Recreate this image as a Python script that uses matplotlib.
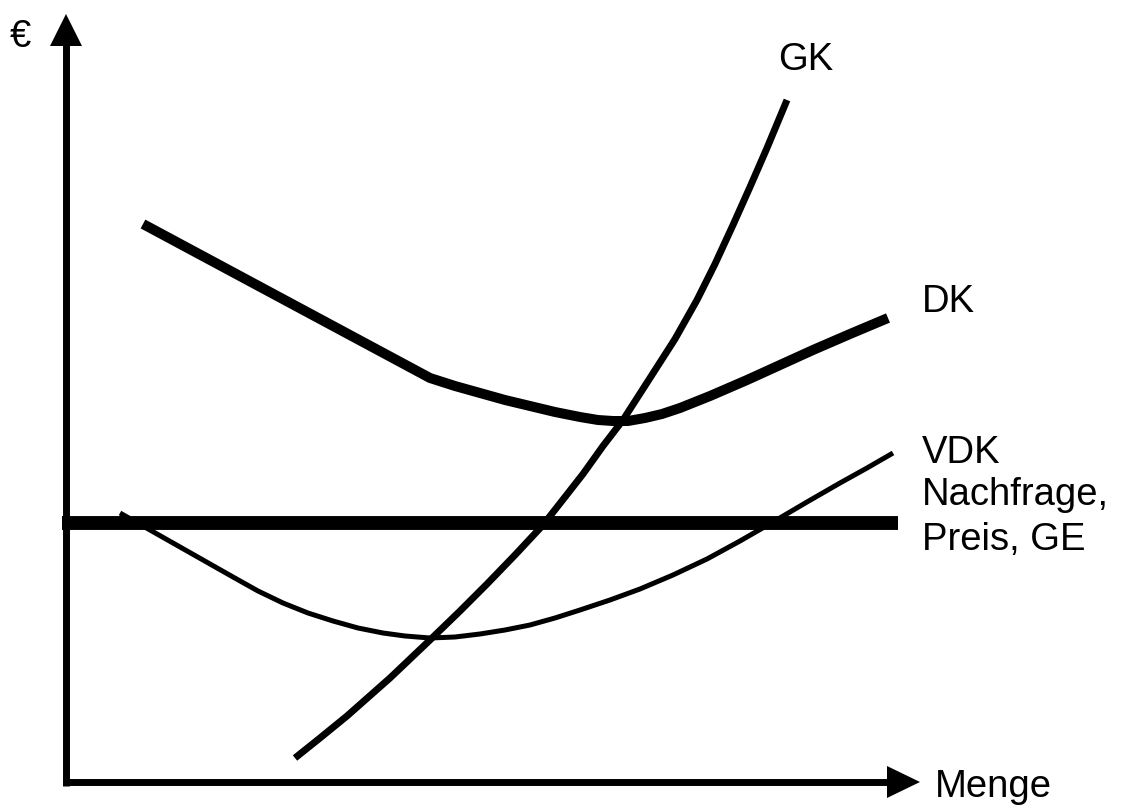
import matplotlib.pyplot as plt

# curve points (pixel space, y grows downwards)
dk_x = [143, 430, 455, 480, 505, 530, 555, 580, 598, 613, 628, 645, 662, 680, 710, 747, 780, 813, 850, 888]
dk_y = [224, 378, 386, 393, 400, 406, 412, 417, 420, 421, 421, 418, 414, 408, 396, 380, 365, 350, 334, 318]

gk_x = [295, 320, 347, 390, 430, 460, 487, 515, 543, 565, 583, 603, 623, 650, 675, 697, 715, 733, 750, 767, 787]
gk_y = [758, 738, 716, 678, 640, 611, 584, 555, 525, 497, 474, 446, 420, 378, 339, 300, 264, 225, 187, 148, 100]

vdk_x = [120, 233, 258, 283, 308, 333, 358, 383, 405, 430, 455, 480, 505, 530, 555, 580, 610, 640, 673, 707, 740, 773, 807, 840, 867, 893]
vdk_y = [513, 577, 591, 603, 613, 621, 628, 633, 636, 638, 637, 634, 630, 625, 618, 610, 600, 589, 575, 559, 541, 522, 502, 483, 468, 453]

price_y = 523
price_x = [62, 898]

labels = ["GK", "DK", "VDK", "Nachfrage,", "Preis, GE"]
label_x = [778, 922, 922, 922, 922]
label_y = [70, 312, 463, 505, 550]

# axis geometry
x0, y0 = 66, 782
y_top = 14
x_right = 920

fig = plt.figure(figsize=(11.36, 8.06), dpi=100)
ax = fig.add_axes([0, 0, 1, 1])
ax.set_xlim(0, 1136)
ax.set_ylim(806, 0)
ax.axis("off")

# axes with arrow heads
ax.plot([x0, x0], [y0 + 4, y_top + 30], color="black", lw=5, solid_capstyle="butt")
ax.plot([x0 - 3, x_right - 32], [y0, y0], color="black", lw=5, solid_capstyle="butt")
ax.fill([x0 - 16, x0 + 16, x0], [y_top + 32, y_top + 32, y_top], color="black", lw=0)
ax.fill([x_right - 33, x_right - 33, x_right], [y0 - 16, y0 + 16, y0], color="black", lw=0)

# curves
ax.plot(price_x, [price_y, price_y], color="black", lw=10, solid_capstyle="butt")
ax.plot(vdk_x, vdk_y, color="black", lw=3.6, solid_capstyle="butt", solid_joinstyle="round")
ax.plot(gk_x, gk_y, color="black", lw=5, solid_capstyle="butt", solid_joinstyle="round")
ax.plot(dk_x, dk_y, color="black", lw=7.2, solid_capstyle="butt", solid_joinstyle="round")

font = dict(family="Liberation Sans", size=27.5, color="black")
for t, lx, ly in zip(labels, label_x, label_y):
    ax.text(lx, ly, t, ha="left", va="baseline", **font)
ax.text(935, 797, "Menge", ha="left", va="baseline", **font)
ax.text(10, 47, "€", ha="left", va="baseline", **font)

fig.savefig("out.png", dpi=100)
